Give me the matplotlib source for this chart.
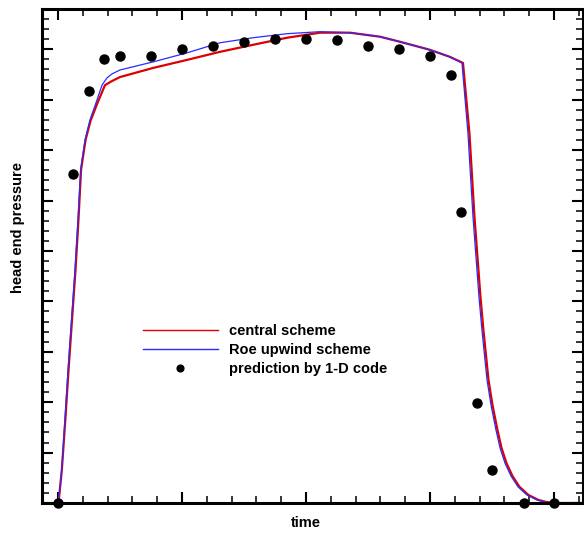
import matplotlib
matplotlib.use('agg')
import matplotlib.pyplot as plt
from matplotlib.ticker import MultipleLocator

# central scheme (red)
central_t = [0.004, 0.031, 0.059, 0.085, 0.113, 0.141, 0.165, 0.186, 0.198, 0.222, 0.262,
             0.319, 0.355, 0.379, 0.435, 0.5, 0.766, 1.04, 1.306, 1.573, 1.847, 2.113,
             2.355, 2.597, 2.758, 3.0, 3.161, 3.266, 3.318, 3.359, 3.407, 3.431, 3.472,
             3.504, 3.544, 3.577, 3.617, 3.665, 3.722, 3.794, 3.875, 3.939, 4.004, 4.234]
central_p = [0.0, 0.655, 1.647, 2.64, 3.631, 4.62, 5.615, 6.61, 6.806, 7.2, 7.58,
             7.94, 8.15, 8.29, 8.37, 8.45, 8.63, 8.79, 8.95, 9.09, 9.23, 9.33,
             9.33, 9.25, 9.15, 8.99, 8.85, 8.73, 7.34, 5.67, 4.09, 3.43, 2.44,
             1.944, 1.45, 1.091, 0.79, 0.536, 0.32, 0.159, 0.06, 0.02, 0.0, 0.0]

# Roe upwind scheme (blue)
roe_t = [0.004, 0.03, 0.056, 0.081, 0.109, 0.137, 0.161, 0.183, 0.194, 0.218, 0.258,
         0.315, 0.355, 0.395, 0.435, 0.5, 0.766, 1.04, 1.306, 1.573, 1.847, 2.113,
         2.355, 2.597, 2.758, 3.0, 3.161, 3.258, 3.306, 3.347, 3.395, 3.419, 3.46,
         3.492, 3.532, 3.565, 3.605, 3.653, 3.71, 3.782, 3.863, 3.927, 3.992, 4.234]
roe_p = [0.0, 0.655, 1.647, 2.64, 3.631, 4.62, 5.615, 6.61, 6.806, 7.2, 7.6,
         8.0, 8.29, 8.433, 8.512, 8.59, 8.75, 8.93, 9.13, 9.23, 9.31, 9.35,
         9.33, 9.25, 9.15, 8.99, 8.85, 8.73, 7.34, 5.67, 4.09, 3.43, 2.44,
         1.944, 1.45, 1.091, 0.79, 0.536, 0.32, 0.159, 0.06, 0.02, 0.0, 0.0]

# prediction by 1-D code
pred_t = [0.0, 0.121, 0.25, 0.371, 0.5, 0.75, 1.0, 1.25, 1.5, 1.75, 2.0, 2.25, 2.5,
          2.75, 3.0, 3.17, 3.25, 3.38, 3.5, 3.76, 4.0]
pred_p = [0.0, 6.53, 8.17, 8.81, 8.87, 8.87, 9.01, 9.07, 9.15, 9.21, 9.21, 9.19, 9.07,
          9.01, 8.87, 8.49, 5.77, 1.98, 0.65, 0.0, 0.0]

plt.rcParams['font.family'] = ['Liberation Sans', 'DejaVu Sans']

fig = plt.figure(figsize=(5.84, 5.35), dpi=100)
ax = fig.add_axes([42 / 584, 32 / 535, 541 / 584, 494 / 535])

ax.plot(central_t, central_p, color='#dd0000', lw=1.6, label='central scheme')
ax.plot(roe_t, roe_p, color='#2a2aff', lw=0.9, label='Roe upwind scheme')
ax.plot(pred_t, pred_p, 'o', color='black', ms=6.5, label='prediction by 1-D code',
        clip_on=False, zorder=5)

ax.set_xlim(-0.129, 4.234)
ax.set_ylim(0, 9.8)

ax.xaxis.set_major_locator(MultipleLocator(1))
ax.xaxis.set_minor_locator(MultipleLocator(0.2))
ax.yaxis.set_major_locator(MultipleLocator(1))
ax.yaxis.set_minor_locator(MultipleLocator(0.2))
ax.tick_params(which='both', direction='in', top=True, right=True,
               labelbottom=False, labelleft=False)
ax.tick_params(which='major', length=8, width=1.5)
ax.tick_params(which='minor', length=5, width=1.1)
for s in ax.spines.values():
    s.set_linewidth(2.2)

ax.set_xlabel('time', fontsize=10.5, fontweight='bold')
ax.set_ylabel('head end pressure', fontsize=10.5, fontweight='bold')
ax.xaxis.set_label_coords(0.488, -0.026)
ax.yaxis.set_label_coords(-0.031, 0.557)

leg = ax.legend(loc='center left', bbox_to_anchor=(0.187, 0.31), frameon=False,
                prop={'weight': 'bold', 'size': 10.5}, handlelength=5.1,
                handletextpad=0.8, labelspacing=0.36, borderpad=0, borderaxespad=0,
                markerscale=0.75)
for h in leg.get_lines()[:2]:
    h.set_linewidth(1.0)

fig.savefig('out.png', dpi=100)
